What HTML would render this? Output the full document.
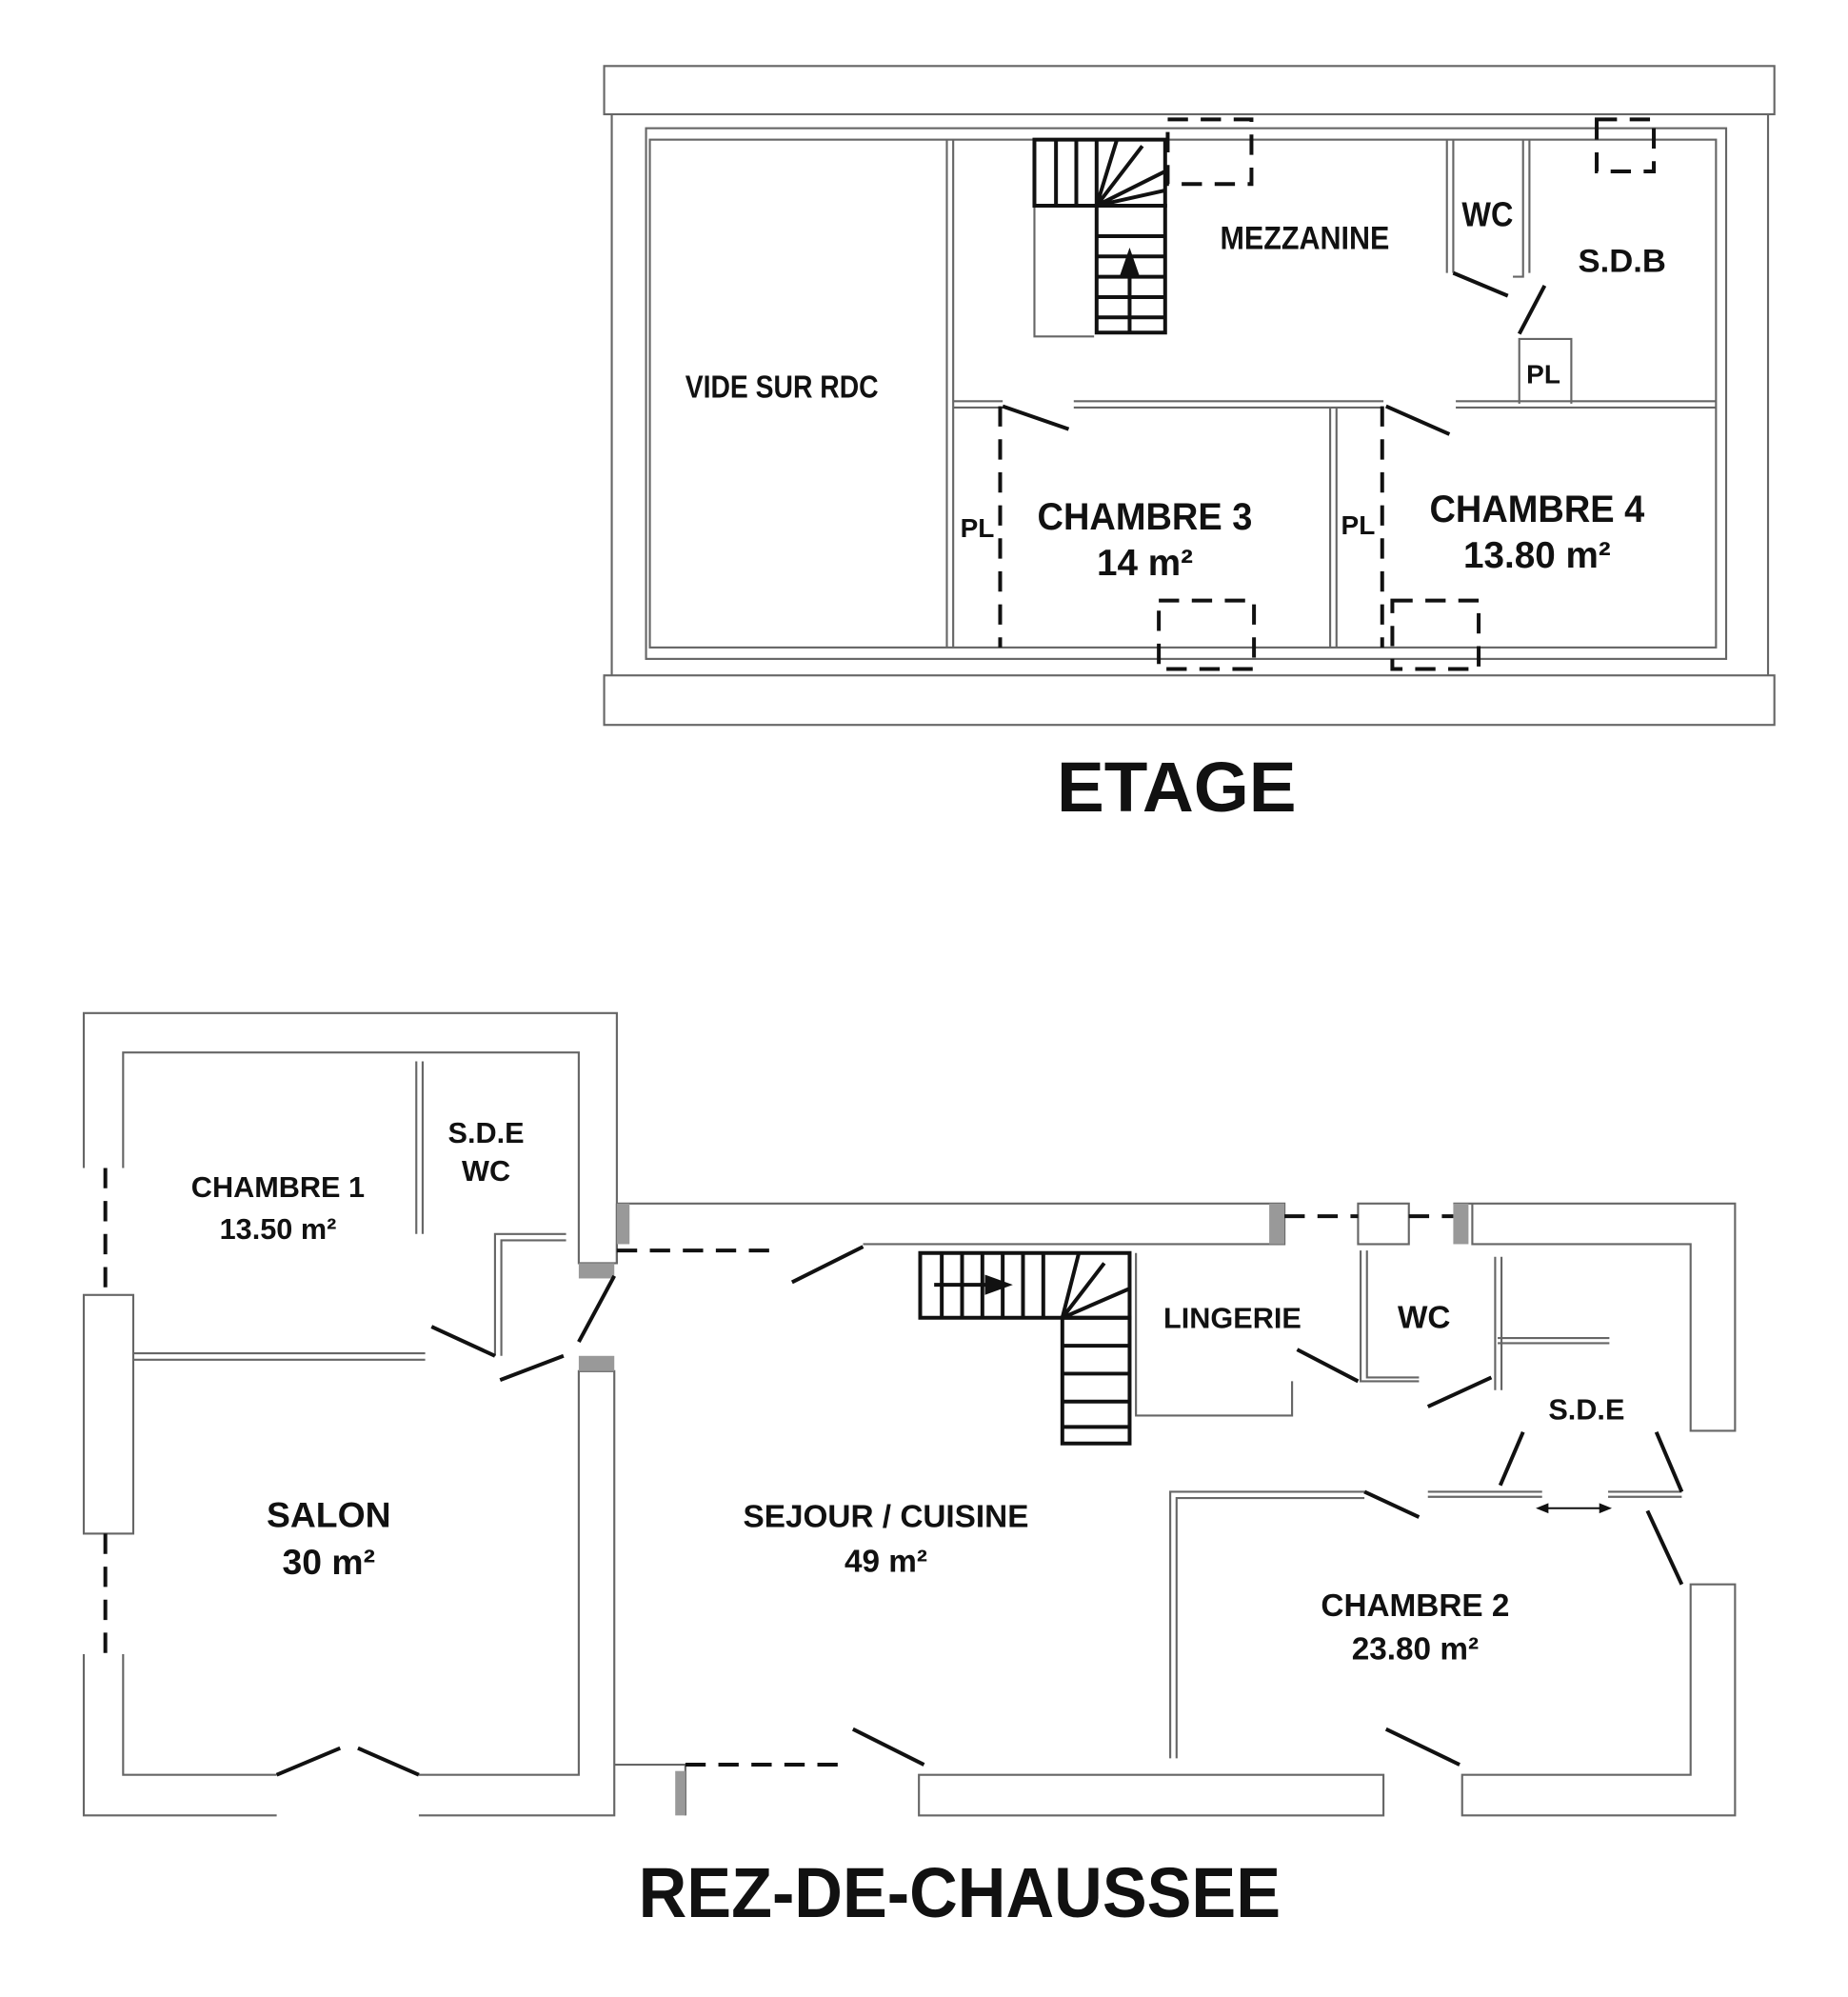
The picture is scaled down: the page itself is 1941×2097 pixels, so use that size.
<!DOCTYPE html>
<html><head><meta charset="utf-8"><style>
html,body{margin:0;padding:0;background:#fff}
svg{display:block}
text{font-family:"Liberation Sans",sans-serif;font-weight:bold;fill:#111}
</style></head><body>
<svg width="1941" height="2097" viewBox="0 0 1456 1573" preserveAspectRatio="none" xmlns="http://www.w3.org/2000/svg">
<g fill="none" stroke="#666" stroke-width="1.6">
<!-- ETAGE -->
<rect x="476" y="52" width="922" height="38"/>
<rect x="476" y="532" width="922" height="39"/>
<line x1="482" y1="90" x2="482" y2="532"/><line x1="1393" y1="90" x2="1393" y2="532"/>
<rect x="509" y="101" width="851" height="418"/>
<rect x="512" y="110" width="840" height="400"/>
<line x1="746" y1="110" x2="746" y2="510"/><line x1="751" y1="110" x2="751" y2="510"/>
<path d="M751 316H790M846 316H1090M1147 316H1352M751 321H790M846 321H1090M1147 321H1352"/>
<line x1="1048" y1="321" x2="1048" y2="510"/><line x1="1053" y1="321" x2="1053" y2="510"/>
<path d="M1140 110V215M1145 110V215M1200 110V218H1192M1205 110V215"/>
<path d="M1197 318V267H1238V318"/>
<path d="M815 162V265H862"/>
<!-- RDC -->
<path d="M66 920V798H486V995H456V829H97V920"/>
<path d="M66 1303V1430H218M97 1303V1398H218"/>
<path d="M330 1398H456V1080H484V1430H330"/>
<rect x="66" y="1020" width="39" height="188"/>
<path d="M486 948H1012V980H680M1145 948H1367V1127H1332V980H1160V948"/>
<rect x="1070" y="948" width="40" height="32"/>
<path d="M486 948V995"/>
<path d="M484 1390H540V1430"/>
<rect x="724" y="1398" width="366" height="32"/>
<path d="M1152 1398H1332V1248H1367V1430H1152Z"/>
<path d="M105 1066H335M105 1071H335"/>
<path d="M328 836V972M333 836V972"/>
<path d="M390 1068V972H446M395 1068V977H446"/>
<path d="M895 987V1115H1018V1088"/>
<path d="M1072 985V1088H1118M1077 985V1085H1118"/>
<path d="M1178 990V1095M1183 990V1095M1180 1054H1268M1180 1058H1268"/>
<path d="M922 1385V1175H1075M927 1385V1180H1075M1125 1175H1215M1125 1179H1215M1267 1175H1325M1267 1179H1325"/>
</g>
<g fill="#999" stroke="none">
<rect x="486" y="948" width="10" height="32"/><rect x="1000" y="948" width="12" height="32"/>
<rect x="1145" y="948" width="12" height="32"/><rect x="456" y="995" width="28" height="12"/>
<rect x="456" y="1068" width="28" height="12"/><rect x="532" y="1395" width="8" height="35"/>
</g>
<g stroke="#111" stroke-width="3" fill="none">
<path d="M815 110H918V162H815ZM832 110V162M848 110V162M864 110V162M864 162L880 110M864 162L900 115M864 162L918 135M864 162L918 150"/>
<path d="M864 162H918V262H864ZM864 186H918M864 202H918M864 218H918M864 234H918M864 250H918"/>
<line x1="890" y1="262" x2="890" y2="210"/>
<path d="M725 987H890V1038H725ZM742 987V1038M758 987V1038M774 987V1038M790 987V1038M806 987V1038M822 987V1038M837 1038L850 987M837 1038L870 995M837 1038L890 1015"/>
<path d="M837 1038H890V1137H837ZM837 1060H890M837 1082H890M837 1104H890M837 1124H890"/>
<line x1="736" y1="1012" x2="780" y2="1012"/>
<path d="M790 320L842 338M1092 320L1142 342M1145 215L1188 233M1197 263L1217 225"/>
<path d="M624 1010L680 982M340 1045L390 1068M394 1087L444 1068M456 1057L484 1005M1022 1063L1070 1088M1125 1108L1175 1085M1182 1170L1200 1128M1305 1128L1325 1175M1298 1190L1325 1248M1075 1175L1118 1195M1092 1362L1150 1390M672 1362L728 1390M218 1398L268 1377M282 1377L330 1398"/>
<g stroke-dasharray="16 10">
<path d="M920 94H986V145H920ZM1258 94H1303V135H1258Z"/>
<path d="M913 473H988V527H913ZM1097 473H1165V527H1097Z"/>
<path d="M788 320V510M1089 320V510"/>
<path d="M486 985H615M1012 958H1070M1110 958H1145M540 1390H668M83 920V1020M83 1208V1303"/>
</g>
<line x1="1215" y1="1188" x2="1265" y2="1188" stroke-width="1.5"/>
</g>
<g fill="#111">
<polygon points="890,195 882,218 898,218"/>
<polygon points="798,1012 776,1004 776,1020"/>
<polygon points="1210,1188 1220,1184 1220,1192"/>
<polygon points="1270,1188 1260,1184 1260,1192"/>
</g>
<text x="616" y="313" font-size="25" text-anchor="middle" transform="translate(616 0) scale(.85 1) translate(-616 0)">VIDE SUR RDC</text>
<text x="1028" y="196" font-size="26" text-anchor="middle" transform="translate(1028 0) scale(.88 1) translate(-1028 0)">MEZZANINE</text>
<text x="1172" y="178" font-size="27" text-anchor="middle" transform="translate(1172 0) scale(.9 1) translate(-1172 0)">WC</text>
<text x="1278" y="214" font-size="26" text-anchor="middle">S.D.B</text>
<text x="1216" y="302" font-size="21" text-anchor="middle">PL</text>
<text x="770" y="423" font-size="21" text-anchor="middle">PL</text>
<text x="1070" y="421" font-size="21" text-anchor="middle">PL</text>
<text x="902" y="417" font-size="30" text-anchor="middle" transform="translate(902 0) scale(.95 1) translate(-902 0)">CHAMBRE 3</text>
<text x="902" y="453" font-size="29" text-anchor="middle">14 m²</text>
<text x="1211" y="411" font-size="30" text-anchor="middle" transform="translate(1211 0) scale(.95 1) translate(-1211 0)">CHAMBRE 4</text>
<text x="1211" y="447" font-size="29" text-anchor="middle">13.80 m²</text>
<text x="927" y="639" font-size="56" text-anchor="middle">ETAGE</text>
<text x="219" y="943" font-size="23" text-anchor="middle">CHAMBRE 1</text>
<text x="219" y="976" font-size="23" text-anchor="middle">13.50 m²</text>
<text x="383" y="900" font-size="23" text-anchor="middle">S.D.E</text>
<text x="383" y="930" font-size="23" text-anchor="middle">WC</text>
<text x="259" y="1203" font-size="28" text-anchor="middle">SALON</text>
<text x="259" y="1240" font-size="28" text-anchor="middle">30 m²</text>
<text x="698" y="1203" font-size="25" text-anchor="middle">SEJOUR / CUISINE</text>
<text x="698" y="1238" font-size="25" text-anchor="middle">49 m²</text>
<text x="971" y="1046" font-size="23" text-anchor="middle">LINGERIE</text>
<text x="1122" y="1046" font-size="25" text-anchor="middle">WC</text>
<text x="1250" y="1118" font-size="23" text-anchor="middle">S.D.E</text>
<text x="1115" y="1273" font-size="25" text-anchor="middle">CHAMBRE 2</text>
<text x="1115" y="1307" font-size="25" text-anchor="middle">23.80 m²</text>
<text x="756" y="1510" font-size="56" text-anchor="middle" transform="translate(756 0) scale(.94 1) translate(-756 0)">REZ-DE-CHAUSSEE</text>
</svg>
</body></html>
